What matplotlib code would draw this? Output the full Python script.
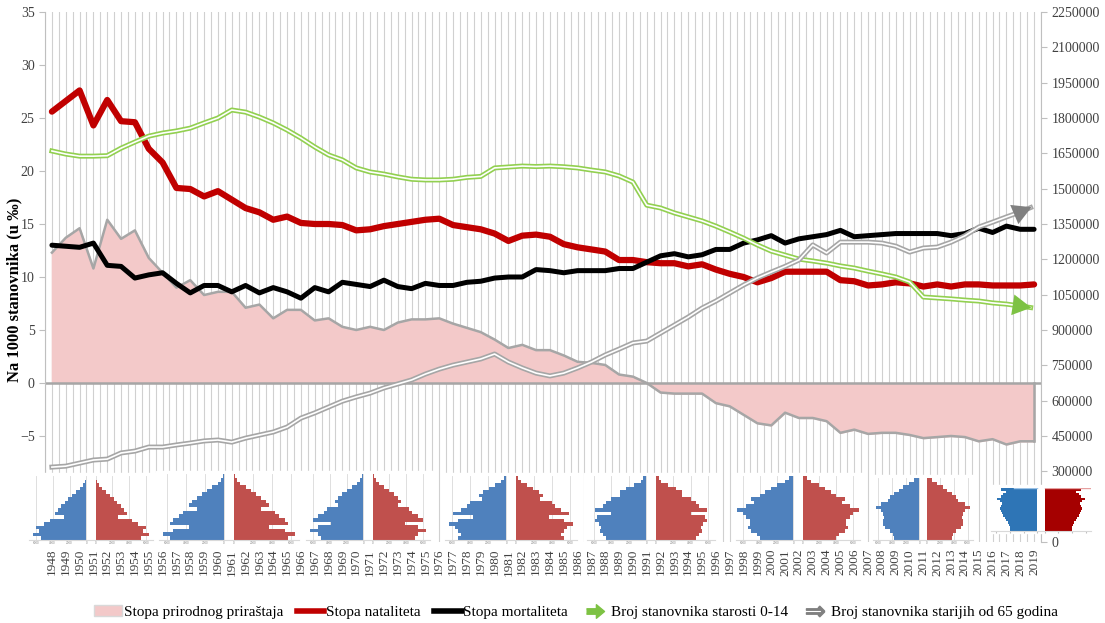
# Prirodni priraštaj, natalitet, mortalitet i starosna struktura 1948-2019
import matplotlib.pyplot as plt
from matplotlib.lines import Line2D
from matplotlib.patches import Patch, Rectangle

# === Data ===
years = list(range(1948, 2020))

natalitet = [25.6, 26.6, 27.6, 24.3, 26.7, 24.7, 24.6, 22.1, 20.8, 18.4,
             18.3, 17.6, 18.1, 17.3, 16.5, 16.1, 15.4, 15.7, 15.1, 15.0,
             15.0, 14.9, 14.4, 14.5, 14.8, 15.0, 15.2, 15.4, 15.5, 14.9,
             14.7, 14.5, 14.1, 13.4, 13.9, 14.0, 13.8, 13.1, 12.8, 12.6,
             12.4, 11.6, 11.6, 11.4, 11.3, 11.3, 11.0, 11.2, 10.7, 10.3,
             10.0, 9.5, 9.9, 10.5, 10.5, 10.5, 10.5, 9.7, 9.6, 9.2,
             9.3, 9.5, 9.4, 9.1, 9.3, 9.1, 9.3, 9.3, 9.2, 9.2,
             9.2, 9.3]

mortalitet = [13.0, 12.9, 12.8, 13.2, 11.1, 11.0, 9.9, 10.2, 10.4, 9.4,
              8.5, 9.2, 9.2, 8.6, 9.2, 8.5, 9.0, 8.6, 8.0, 9.0,
              8.6, 9.5, 9.3, 9.1, 9.7, 9.1, 8.9, 9.4, 9.2, 9.2,
              9.5, 9.6, 9.9, 10.0, 10.0, 10.7, 10.6, 10.4, 10.6, 10.6,
              10.6, 10.8, 10.8, 11.4, 12.0, 12.2, 11.9, 12.1, 12.6, 12.6,
              13.2, 13.5, 13.9, 13.2, 13.6, 13.8, 14.0, 14.4, 13.8, 13.9,
              14.0, 14.1, 14.1, 14.1, 14.1, 13.9, 14.1, 14.6, 14.2, 14.8,
              14.5, 14.5]

prirastaj = [12.3, 13.7, 14.6, 10.8, 15.4, 13.6, 14.4, 11.8, 10.4, 9.0,
             9.7, 8.3, 8.6, 8.6, 7.1, 7.4, 6.1, 6.9, 6.9, 5.9,
             6.1, 5.3, 5.0, 5.3, 5.0, 5.7, 6.0, 6.0, 6.1, 5.6,
             5.2, 4.8, 4.1, 3.3, 3.6, 3.1, 3.1, 2.6, 2.0, 1.9,
             1.7, 0.8, 0.6, 0.0, -0.9, -1.0, -1.0, -1.0, -1.9, -2.2,
             -3.0, -3.8, -4.0, -2.8, -3.3, -3.3, -3.6, -4.7, -4.4, -4.8,
             -4.7, -4.7, -4.9, -5.2, -5.1, -5.0, -5.1, -5.5, -5.3, -5.8,
             -5.5, -5.5]

pop_0_14 = [1660000, 1647000, 1638000, 1638000, 1640000, 1672000, 1698000, 1723000, 1736000, 1745000,
            1757000, 1779000, 1800000, 1834000, 1825000, 1804000, 1779000, 1749000, 1715000, 1677000,
            1643000, 1622000, 1588000, 1571000, 1562000, 1550000, 1540000, 1537000, 1537000, 1540000,
            1548000, 1552000, 1588000, 1592000, 1596000, 1594000, 1596000, 1593000, 1588000, 1579000,
            1571000, 1554000, 1528000, 1430000, 1418000, 1397000, 1380000, 1363000, 1341000, 1316000,
            1290000, 1261000, 1235000, 1218000, 1201000, 1193000, 1184000, 1172000, 1163000, 1150000,
            1138000, 1125000, 1104000, 1040000, 1036000, 1032000, 1027000, 1023000, 1015000, 1010000,
            1002000, 993000]

pop_65 = [318000, 322000, 335000, 348000, 352000, 378000, 386000, 403000, 403000, 412000,
          420000, 429000, 433000, 424000, 441000, 454000, 467000, 488000, 526000, 548000,
          573000, 598000, 616000, 632000, 654000, 671000, 688000, 713000, 734000, 751000,
          764000, 777000, 798000, 764000, 739000, 717000, 705000, 717000, 739000, 764000,
          794000, 819000, 845000, 853000, 887000, 921000, 955000, 993000, 1023000, 1057000,
          1091000, 1121000, 1146000, 1170000, 1197000, 1261000, 1227000, 1273000, 1273000, 1273000,
          1269000, 1256000, 1231000, 1248000, 1252000, 1273000, 1300000, 1337000, 1358000, 1380000,
          1401000, 1426000]

# starosne piramide (5-godišnje grupe, 0-4 ... 85+), relativna širina
pyramids = [
    [0.80, 0.95, 0.85, 0.90, 0.75, 0.65, 0.40, 0.55, 0.50, 0.45, 0.38, 0.32, 0.25, 0.18, 0.12, 0.07, 0.03, 0.01],
    [0.85, 0.95, 0.80, 0.55, 0.85, 0.80, 0.70, 0.65, 0.42, 0.55, 0.50, 0.42, 0.35, 0.27, 0.18, 0.10, 0.05, 0.02],
    [0.75, 0.80, 0.95, 0.80, 0.58, 0.90, 0.80, 0.70, 0.65, 0.45, 0.50, 0.45, 0.38, 0.30, 0.20, 0.12, 0.06, 0.02],
    [0.80, 0.75, 0.80, 0.85, 0.95, 0.80, 0.55, 0.88, 0.75, 0.65, 0.60, 0.40, 0.45, 0.38, 0.28, 0.18, 0.09, 0.04],
    [0.70, 0.75, 0.80, 0.78, 0.82, 0.88, 0.85, 0.60, 0.88, 0.75, 0.70, 0.60, 0.45, 0.45, 0.35, 0.22, 0.10, 0.05],
    [0.60, 0.65, 0.75, 0.80, 0.78, 0.78, 0.85, 0.90, 1.00, 0.85, 0.70, 0.75, 0.60, 0.50, 0.40, 0.30, 0.15, 0.08],
    [0.55, 0.58, 0.65, 0.75, 0.80, 0.80, 0.78, 0.80, 0.85, 0.95, 0.85, 0.70, 0.65, 0.55, 0.45, 0.35, 0.22, 0.12],
    [0.60, 0.60, 0.62, 0.65, 0.70, 0.72, 0.75, 0.78, 0.80, 0.82, 0.80, 0.78, 0.82, 0.88, 0.80, 0.75, 0.70, 0.80],
]
pyr_ticks = ['6000', '4000', '2000', '0', '0', '2000', '4000', '6000']

# === Layout (pixels) ===
W, H = 1105, 623
# centar, polovina širine, vrh, dno
pyr_rects = [(91, 62, 476, 540), (229, 70, 474, 540), (368, 62, 474, 540), (511, 66, 476, 540),
             (651, 64, 476, 540), (798, 62, 476, 540), (923, 50, 478, 540), (1041, 50, 488, 531)]

serif = 'Liberation Serif'
tick_col = '#404040'
green = '#92d050'
gray = '#a6a6a6'

fig = plt.figure(figsize=(W / 100, H / 100), dpi=100)
ax = fig.add_axes([45 / W, 1 - 542 / H, (1041 - 45) / W, 530 / H])
ax2 = ax.twinx()

# === Gridlines ===
for k in range(145):
    ax.axvline(1947.5 + 0.5 * k, color='#d0d0d0', lw=0.8, zorder=0)

# === Area + rates (left axis) ===
ax.fill_between(years, prirastaj, 0, color='#f3c9c9', zorder=1)
ax.plot(years, prirastaj, color=gray, lw=1.8, zorder=2)
ax.axhline(0, color=gray, lw=1.8, zorder=2)
ax.plot([2019, 2019], [0, prirastaj[-1]], color=gray, lw=1.8, zorder=2)
ax.plot(years, natalitet, color='#c00000', lw=4.5, solid_joinstyle='round', solid_capstyle='round', zorder=3)
ax.plot(years, mortalitet, color='black', lw=3.6, solid_joinstyle='round', solid_capstyle='round', zorder=3)

# === Population (right axis), double lines with arrows ===
for vals, col, head in [(pop_0_14, green, '#7dc243'), (pop_65, gray, '#808080')]:
    xs = years[:-1] + [2018.75]
    ys = vals[:-1] + [vals[-2] + 0.75 * (vals[-1] - vals[-2])]
    ax2.plot(xs, ys, color=col, lw=3.6, solid_joinstyle='round')
    ax2.plot(xs, ys, color='white', lw=1.2, solid_joinstyle='round')
    ax2.annotate('', xy=(years[-1], vals[-1]), xytext=(years[-2], vals[-2]),
                 arrowprops=dict(arrowstyle='-|>,head_length=0.9,head_width=0.5',
                                 color=head, lw=0, mutation_scale=15))

# === Axes styling ===
ax.set_xlim(1947.5, 2019.5)
ax.set_ylim(-15, 35)
ax.set_yticks(range(-5, 36, 5))
right_ticks = [0] + list(range(300000, 2250001, 150000))
ax2.set_ylim(0, 2250000)
ax2.set_yticks(right_ticks)
ax2.set_yticklabels([str(v) for v in right_ticks])
ax.set_xticks(years)
ax.set_xticklabels([str(y) for y in years], rotation=90)

for a in (ax, ax2):
    for s in a.spines.values():
        s.set_visible(False)
ax.spines['left'].set_visible(True)
ax.spines['left'].set_color('#bfbfbf')
ax2.spines['right'].set_visible(True)
ax2.spines['right'].set_color('#bfbfbf')

ax.tick_params(axis='x', length=0, pad=5, labelsize=9.5, labelcolor=tick_col)
ax.tick_params(axis='y', length=4, color='#bfbfbf', labelsize=10, labelcolor=tick_col)
ax2.tick_params(axis='y', length=4, color='#bfbfbf', labelsize=10, labelcolor=tick_col)
for lab in ax.get_xticklabels() + ax.get_yticklabels() + ax2.get_yticklabels():
    lab.set_fontfamily(serif)

fig.text(14 / W, 1 - 290 / H, 'Na 1000 stanovnika (u ‰)', rotation=90, ha='center', va='center',
         fontsize=12, fontweight='bold', family=serif)

# === Population pyramids ===
for i, ((cx, hw, top, bot), prof) in enumerate(zip(pyr_rects, pyramids)):
    last = i == len(pyramids) - 1
    cb, cr = ('#2e75b6', '#a50000') if last else ('#4f81bd', '#c0504d')
    pad_b = 2 if last else 6
    fig.patches.append(Rectangle(((cx - hw - 3) / W, 1 - (bot + pad_b) / H), (2 * hw + 6) / W,
                                 (bot - top + pad_b + 3) / H,
                                 transform=fig.transFigure, color='white', zorder=4))
    pax = fig.add_axes([(cx - hw) / W, 1 - bot / H, 2 * hw / W, (bot - top) / H], zorder=5)
    ages = range(len(prof))
    gap = 0.08
    pax.barh(ages, [-v for v in prof], left=-gap, height=1.0, color=cb, zorder=2)
    pax.barh(ages, prof, left=gap, height=1.0, color=cr, zorder=2)
    pax.set_xlim(-1.1, 1.1)
    pax.set_ylim(-0.6, len(prof) - 0.4)
    xt = [-0.98, -0.68, -0.38, -gap, gap, 0.38, 0.68, 0.98]
    pax.set_xticks(xt)
    if last:
        pax.set_xticklabels([])
        pax.tick_params(axis='x', length=1.5, color='#bfbfbf')
        pax.plot([-0.6, -gap], [len(prof) - 0.45] * 2, color='#9dc3e6', lw=1)
        pax.plot([gap, 1.1], [len(prof) - 0.45] * 2, color='#e6a0a0', lw=1)
    else:
        pax.set_xticklabels(pyr_ticks, fontsize=2, color='#808080')
        pax.tick_params(axis='x', length=0, pad=1)
        pax.grid(axis='x', color='#d9d9d9', lw=0.6, zorder=0)
    pax.set_yticks([])
    for s in pax.spines.values():
        s.set_visible(False)
    pax.spines['bottom'].set_visible(True)
    pax.spines['bottom'].set_color('#d9d9d9')

# === Legend ===
arrow_verts = [(-1, -0.3), (0.1, -0.3), (0.1, -0.75), (1, 0), (0.1, 0.75), (0.1, 0.3), (-1, 0.3)]
handles = [
    Patch(facecolor='#f3c9c9', edgecolor='#d9d9d9'),
    Line2D([], [], color='#c00000', lw=4),
    Line2D([], [], color='black', lw=4),
    Line2D([], [], ls='none', marker=arrow_verts, markersize=13, color='#7dc243'),
    Line2D([], [], ls='none', marker=r'$\Rightarrow$', markersize=13, color='#808080'),
]
labels = ['Stopa prirodnog priraštaja', 'Stopa nataliteta', 'Stopa mortaliteta',
          'Broj stanovnika starosti 0-14', 'Broj stanovnika starijih od 65 godina']
fig.legend(handles, labels, loc='center', bbox_to_anchor=(576 / W, 1 - 612 / H), ncol=5, frameon=False,
           prop={'family': serif, 'size': 11}, handlelength=1.8, handletextpad=0.1, columnspacing=0.9)

fig.savefig('out.png', dpi=100)
